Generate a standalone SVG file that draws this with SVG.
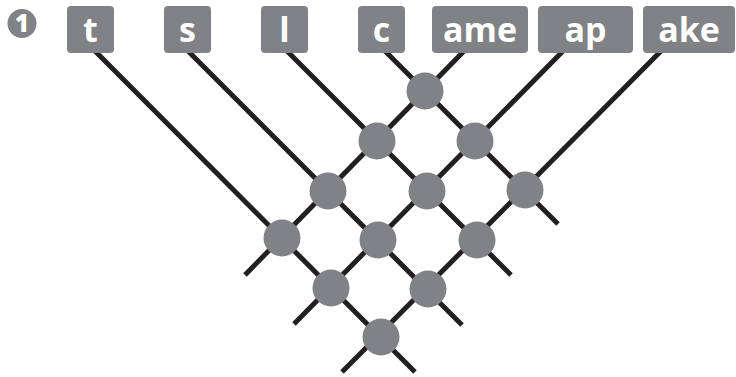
<svg xmlns="http://www.w3.org/2000/svg" width="736" height="377" viewBox="0 0 736 377">
<style>
.box{fill:#808285}
.lbl{fill:#ffffff;font-family:"Open Sans","Liberation Sans",sans-serif;font-weight:700;font-size:34px;text-anchor:middle}
.node{fill:#808285}
.conn{stroke:#231f20;stroke-width:5;fill:none}
</style>
<rect width="736" height="377" fill="#ffffff"/>
<g id="connectors">
<line class="conn" x1="384" y1="50" x2="558" y2="224"/>
<line class="conn" x1="286" y1="50" x2="511" y2="275"/>
<line class="conn" x1="187" y1="50" x2="462" y2="325"/>
<line class="conn" x1="94" y1="50" x2="415" y2="372"/>
<line class="conn" x1="465" y1="50" x2="245" y2="275"/>
<line class="conn" x1="564" y1="50" x2="294" y2="324"/>
<line class="conn" x1="662" y1="50" x2="342" y2="372"/>
</g>
<g id="step1">
<circle cx="22" cy="23.5" r="14.5" fill="#808285"/>
<text x="22" y="32" style="fill:#fff;font-family:'Open Sans','Liberation Sans',sans-serif;font-weight:800;font-size:24px;text-anchor:middle">1</text>
</g>
<g id="box-t"><rect class="box" x="67" y="6" width="47" height="47" rx="4"/><text class="lbl" x="90.5" y="42">t</text></g>
<g id="box-s"><rect class="box" x="164" y="6" width="47" height="47" rx="4"/><text class="lbl" x="187.5" y="42">s</text></g>
<g id="box-l"><rect class="box" x="261" y="6" width="47" height="47" rx="4"/><text class="lbl" x="284.5" y="42">l</text></g>
<g id="box-c"><rect class="box" x="358" y="6" width="47" height="47" rx="4"/><text class="lbl" x="381.5" y="42">c</text></g>
<g id="box-ame"><rect class="box" x="432" y="6" width="96" height="47" rx="4"/><text class="lbl" x="480" y="42">ame</text></g>
<g id="box-ap"><rect class="box" x="538" y="6" width="95" height="47" rx="4"/><text class="lbl" x="585.5" y="42">ap</text></g>
<g id="box-ake"><rect class="box" x="643" y="6" width="92" height="47" rx="4"/><text class="lbl" x="689" y="42">ake</text></g>
<g id="n00"><circle class="node" cx="425" cy="91" r="18.5"/></g>
<g id="n10"><circle class="node" cx="377" cy="141" r="18.5"/></g>
<g id="n01"><circle class="node" cx="475" cy="141" r="18.5"/></g>
<g id="n20"><circle class="node" cx="328" cy="191" r="18.5"/></g>
<g id="n11"><circle class="node" cx="427" cy="191" r="18.5"/></g>
<g id="n02"><circle class="node" cx="525" cy="190" r="18.5"/></g>
<g id="n30"><circle class="node" cx="282" cy="238" r="18.5"/></g>
<g id="n21"><circle class="node" cx="378" cy="240" r="18.5"/></g>
<g id="n12"><circle class="node" cx="477" cy="240" r="18.5"/></g>
<g id="n31"><circle class="node" cx="331" cy="288" r="18.5"/></g>
<g id="n22"><circle class="node" cx="428" cy="289" r="18.5"/></g>
<g id="n32"><circle class="node" cx="381" cy="337" r="18.5"/></g>
</svg>
